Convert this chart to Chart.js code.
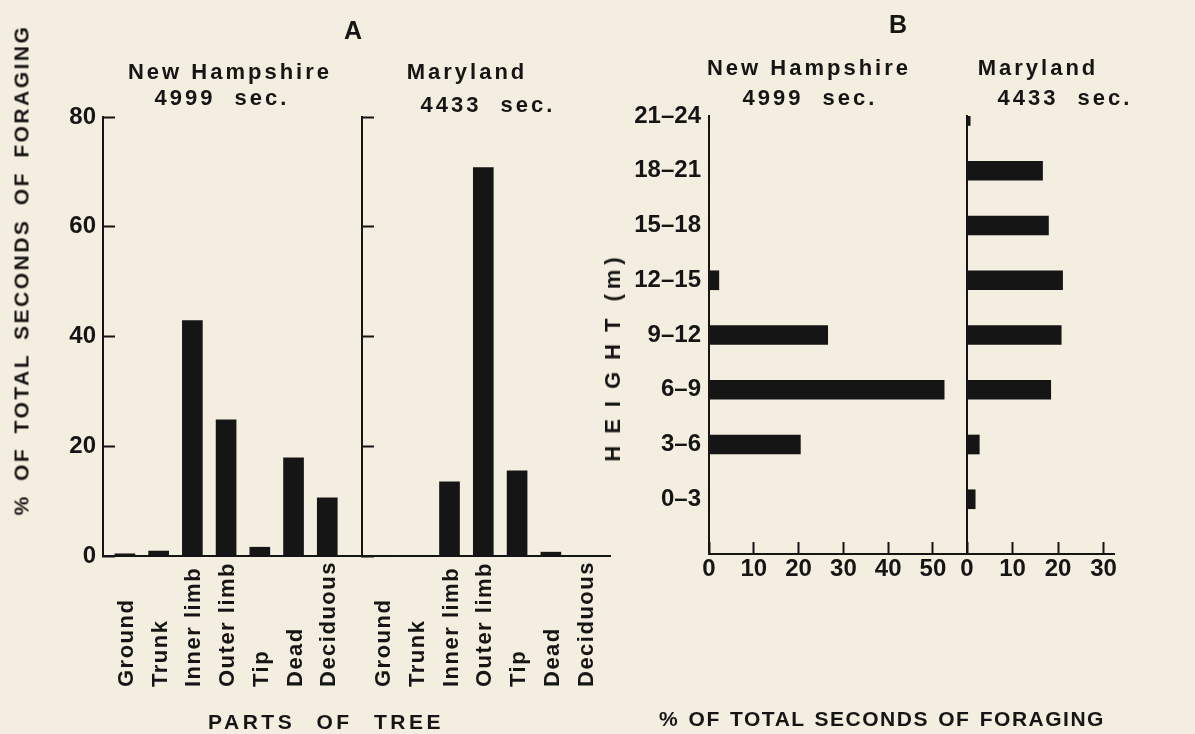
<!DOCTYPE html>
<html>
<head>
<meta charset="utf-8">
<script src="https://cdn.jsdelivr.net/npm/chart.js@4.4.0/dist/chart.umd.min.js"></script>
<style>
  html, body { margin: 0; padding: 0; background: #f3eedf; }
  #stage {
    position: relative; width: 1195px; height: 734px; overflow: hidden;
    font-family: "Liberation Sans", Arial, sans-serif; font-weight: bold; color: #151515;
  }
  #stage canvas { position: absolute; left: 0; top: 0; }
  .txt {
    position: absolute; white-space: nowrap; transform: translate(-50%, -50%);
    font-size: 22px; letter-spacing: 3px; line-height: 1;
  }
  .big { font-size: 25px; letter-spacing: 0; }
  .vert { transform: translate(-50%, -50%) rotate(-90deg); }
  .sec { word-spacing: 10px; }
</style>
</head>
<body>
<div id="stage">
  <canvas id="nhParts" width="1195" height="734"></canvas>
  <canvas id="mdParts" width="1195" height="734"></canvas>
  <canvas id="nhHeight" width="1195" height="734"></canvas>
  <canvas id="mdHeight" width="1195" height="734"></canvas>

  <div class="txt big" style="left:353px;top:30px">A</div>
  <div class="txt big" style="left:898px;top:24px">B</div>

  <div class="txt" style="left:230px;top:72px">New Hampshire</div>
  <div class="txt sec" style="left:222px;top:98px">4999 sec.</div>
  <div class="txt" style="left:467px;top:72px">Maryland</div>
  <div class="txt sec" style="left:488px;top:105px">4433 sec.</div>

  <div class="txt" style="left:809px;top:68px">New Hampshire</div>
  <div class="txt sec" style="left:810px;top:98px">4999 sec.</div>
  <div class="txt" style="left:1038px;top:68px">Maryland</div>
  <div class="txt sec" style="left:1065px;top:98px">4433 sec.</div>

  <div class="txt vert" style="left:21px;top:270px;font-size:21px;letter-spacing:2.5px;word-spacing:5px">% OF TOTAL SECONDS OF FORAGING</div>
  <div class="txt" style="left:326px;top:721px;font-size:21px;letter-spacing:3.5px;word-spacing:12px">PARTS OF TREE</div>
  <div class="txt vert" style="left:613px;top:357px;font-size:22px;letter-spacing:0"><span style="letter-spacing:12px">HEIGHT</span><span style="letter-spacing:5px;margin-left:5px">(m)</span></div>
  <div class="txt" style="left:882px;top:718px;font-size:21px;letter-spacing:1.5px;word-spacing:2px">% OF TOTAL SECONDS OF FORAGING</div>
</div>

<script>
// Panel A: parts of tree (% of total seconds of foraging)
const parts = ['Ground', 'Trunk', 'Inner limb', 'Outer limb', 'Tip', 'Dead', 'Deciduous'];
const nhParts = [0.4, 0.9, 42.9, 24.8, 1.6, 17.9, 10.6];
const mdParts = [0, 0, 13.5, 70.8, 15.5, 0.7, 0];

// Panel B: height classes (m), top to bottom; last slot is the empty band above the axis
const heights = ['21–24', '18–21', '15–18', '12–15', '9–12', '6–9', '3–6', '0–3', ''];
const nhHeight = [0, 0, 0, 2.2, 26.5, 52.5, 20.4, 0];
const mdHeight = [0.7, 16.6, 17.9, 21.0, 20.7, 18.4, 2.7, 1.8];

const ink = '#151515';
const family = '"Liberation Sans", Arial, sans-serif';
const tickFont = { family: family, size: 24, weight: 'bold' };
const axisBorder = { color: ink, width: 2 };
const plainGrid = { drawOnChartArea: false, drawTicks: false };
const inwardGrid = { drawOnChartArea: false, tickLength: -12, tickWidth: 2, tickColor: ink };

Chart.defaults.font.family = family;
Chart.defaults.color = ink;

const common = {
  responsive: false,
  animation: false,
  devicePixelRatio: 1,
  events: [],
  plugins: { legend: { display: false }, tooltip: { enabled: false } }
};

// rotated category names, bottoms lined up like the printed figure
const partLabels = {
  id: 'partLabels',
  afterDraw(chart, args, opts) {
    const ctx = chart.ctx;
    const xScale = chart.scales.x;
    ctx.save();
    ctx.font = 'bold 22px ' + family;
    ctx.fillStyle = ink;
    ctx.textAlign = 'left';
    ctx.textBaseline = 'alphabetic';
    ctx.letterSpacing = '1.5px';
    opts.labels.forEach((label, i) => {
      ctx.save();
      ctx.translate(xScale.getPixelForValue(i) + 8, opts.bottom);
      ctx.rotate(-Math.PI / 2);
      ctx.fillText(label, 0, 0);
      ctx.restore();
    });
    ctx.restore();
  }
};

function partsChart(id, values, left, right, xMin, xMax, showY) {
  return new Chart(document.getElementById(id), {
    type: 'bar',
    data: {
      datasets: [{
        data: values.map((v, i) => ({ x: i, y: v })),
        backgroundColor: ink,
        barThickness: 20
      }]
    },
    options: {
      ...common,
      layout: { padding: { left: 0, top: 117, right: 1195 - right, bottom: 734 - 556 } },
      scales: {
        x: {
          type: 'linear', min: xMin, max: xMax, offset: false,
          ticks: { display: false },
          grid: plainGrid,
          border: axisBorder,
          afterFit: s => { s.height = 0; }
        },
        y: {
          min: 0, max: 80,
          ticks: { stepSize: 20, font: tickFont, color: showY ? ink : 'transparent', padding: 19 },
          grid: inwardGrid,
          border: axisBorder,
          afterFit: s => { s.width = left; }
        }
      },
      plugins: { ...common.plugins, partLabels: { labels: parts, bottom: 687 } }
    },
    plugins: [partLabels]
  });
}

function heightChart(id, values, left, right, xMax, showY) {
  return new Chart(document.getElementById(id), {
    type: 'bar',
    data: {
      labels: heights,
      datasets: [{ data: values, backgroundColor: ink, barThickness: 19 }]
    },
    options: {
      ...common,
      indexAxis: 'y',
      layout: { padding: { left: 0, top: 116, right: 1195 - right, bottom: 734 - 554 - 45 } },
      scales: {
        y: {
          type: 'category', offset: false,
          ticks: { display: showY, autoSkip: false, font: tickFont, padding: 8 },
          grid: plainGrid,
          border: axisBorder,
          afterFit: s => { s.width = left; }
        },
        x: {
          min: 0, max: xMax,
          ticks: { stepSize: 10, includeBounds: false, font: tickFont, padding: 13 },
          grid: inwardGrid,
          border: axisBorder,
          afterFit: s => { s.height = 45; }
        }
      }
    }
  });
}

partsChart('nhParts', nhParts, 103, 362, -0.65, 7.03, true);
partsChart('mdParts', mdParts, 362, 610, -0.59, 6.75, false);
heightChart('nhHeight', nhHeight, 709, 967, 57.6, true);
heightChart('mdHeight', mdHeight, 967, 1114, 32.3, false);
</script>
</body>
</html>
